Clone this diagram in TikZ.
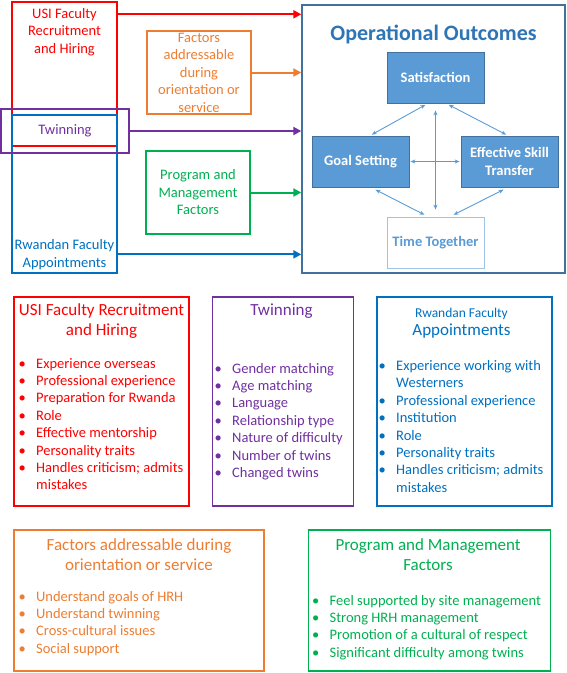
\documentclass[tikz,border=0pt]{standalone}
\usepackage{fontspec}
\setmainfont{Carlito}
\usepackage{tikz}
\usetikzlibrary{arrows.meta,positioning}
\definecolor{usired}{RGB}{255,0,0}
\definecolor{twinpurple}{RGB}{112,48,160}
\definecolor{rwblue}{RGB}{0,112,192}
\definecolor{facorange}{RGB}{237,125,49}
\definecolor{proggreen}{RGB}{0,176,80}
\definecolor{opsblue}{RGB}{91,155,213}
\definecolor{opsdark}{RGB}{65,113,156}
\definecolor{optitle}{RGB}{46,117,182}
\definecolor{opslight}{RGB}{157,195,230}
\newcommand{\blist}[1]{\begin{tabular}[t]{@{}p{17.5pt}@{}l@{}}#1\end{tabular}}

\begin{document}
\begin{tikzpicture}[x=1pt, y=-1pt,
  box/.style={rectangle, draw, line width=1.4pt, inner sep=0pt},
  lbl/.style={align=center, inner sep=0pt, font=\fontsize{14.5}{17.5}\selectfont},
  head/.style={align=center, inner sep=0pt, anchor=base, font=\fontsize{17}{20}\selectfont},
  items/.style={inner sep=0pt, anchor=base west, font=\fontsize{14.5}{17.4}\selectfont},
  outc/.style={rectangle, draw=opsdark, fill=opsblue, text=white, line width=0.8pt, minimum width=97pt, minimum height=51pt, align=center, inner sep=0pt, font=\bfseries\fontsize{14.5}{17.5}\selectfont},
  arr/.style={-{Triangle[length=8pt, width=8pt]}, line width=2pt},
  dbl/.style={{Stealth[length=5pt, width=4pt]}-{Stealth[length=5pt, width=4pt]}, draw=opsblue, line width=0.9pt}
]
\useasboundingbox (0,0) rectangle (567,673);

\node[box, draw=usired, minimum width=105pt, minimum height=144pt] (usi) at (64.5,74) {};
\node[box, draw=rwblue, minimum width=105pt, minimum height=158pt] (rwf) at (64.5,194) {};
\node[box, lbl, draw=twinpurple, text=twinpurple, minimum width=128pt, minimum height=44pt] (twin) at (65,131) {Twinning};
\node[lbl, anchor=base, text=usired] (usilbl) at (64.5,53) {USI Faculty\\Recruitment\\and Hiring};
\node[lbl, anchor=base, text=rwblue] (rwflbl) at (64.5,267) {Rwandan Faculty\\Appointments};
\node[box, lbl, draw=facorange, text=facorange, minimum width=104pt, minimum height=83pt] (fac) at (199,72.5) {Factors\\addressable\\during\\orientation or\\service};
\node[box, lbl, draw=proggreen, text=proggreen, minimum width=104pt, minimum height=83pt] (prog) at (198,192.5) {Program and\\Management\\Factors};

\node[box, draw=opsdark, minimum width=263pt, minimum height=268pt] (ops) at (433.5,139) {};
\node[anchor=base, inner sep=0pt, text=optitle, font=\bfseries\fontsize{22}{26}\selectfont] (opshead) at (433.5,40.5) {Operational Outcomes};
\node[outc] (sat) at (435.5,77.5) {Satisfaction};
\node[outc] (goal) at (360.5,161.5) {Goal Setting};
\node[outc] (skill) at (509.5,161.5) {Effective Skill\\Transfer};
\node[outc, fill=white, draw=opslight, text=opsblue] (time) at (435.5,242.5) {Time Together};

\coordinate (usiout) at ([yshift=-13pt]usi.north east);
\draw[arr, usired] (usiout) -- (usiout -| ops.west);
\draw[arr, facorange] (fac.east) -- (fac.east -| ops.west);
\draw[arr, twinpurple] (twin.east) -- (twin.east -| ops.west);
\draw[arr, proggreen] (prog.east) -- (prog.east -| ops.west);
\draw[arr, rwblue] (rwflbl.east -| rwf.east) -- (rwflbl.east -| ops.west);

\draw[dbl, shorten <=3pt, shorten >=2pt] ([xshift=-7.5pt]sat.south) -- ([xshift=9.5pt]goal.north);
\draw[dbl, shorten <=3pt, shorten >=2pt] ([xshift=10.5pt]sat.south) -- ([xshift=-1.5pt]skill.north);
\draw[dbl, shorten <=7pt, shorten >=7pt] (sat.south) -- (time.north);
\draw[dbl, shorten <=1pt, shorten >=1pt] (goal.east) -- (skill.west);
\draw[dbl, shorten <=5pt, shorten >=4pt] ([xshift=10.5pt]goal.south) -- ([xshift=-7.5pt]time.north);
\draw[dbl, shorten <=5pt, shorten >=4pt] ([xshift=-1.5pt]skill.south) -- ([xshift=14.5pt]time.north);

\node[box, draw=usired, minimum width=175pt, minimum height=209pt] (usicard) at (101.5,401.5) {};
\node[box, draw=twinpurple, minimum width=141pt, minimum height=209pt, right=22pt of usicard] (twincard) {};
\node[box, draw=rwblue, minimum width=175pt, minimum height=209pt, right=22pt of twincard] (rwfcard) {};
\node[box, draw=facorange, minimum width=250pt, minimum height=141pt] (faccard) at (139,600.5) {};
\node[box, draw=proggreen, minimum width=242pt, minimum height=141pt, right=43pt of faccard] (progcard) {};

\node[head, text=usired] (usihead) at (101.5,335.5) {USI Faculty Recruitment\\and Hiring};
\node[head, text=twinpurple] (twinhead) at (281.5,315.5) {Twinning};
\node[head, text=rwblue] (rwfhead) at (461.5,335.5) {{\fontsize{13.5}{16}\selectfont Rwandan Faculty}\\[-2pt]Appointments};
\node[head, text=facorange] (fachead) at (139,570) {Factors addressable during\\orientation or service};
\node[head, text=proggreen] (proghead) at (428,570) {Program and Management\\Factors};

\node[items, text=usired] (usiitems) at (18.5,368) {\blist{%
  \textbullet & Experience overseas\\
  \textbullet & Professional experience\\
  \textbullet & Preparation for Rwanda\\
  \textbullet & Role\\
  \textbullet & Effective mentorship\\
  \textbullet & Personality traits\\
  \textbullet & Handles criticism; admits\\
              & mistakes}};
\node[items, text=twinpurple] (twinitems) at (214.5,373) {\blist{%
  \textbullet & Gender matching\\
  \textbullet & Age matching\\
  \textbullet & Language\\
  \textbullet & Relationship type\\
  \textbullet & Nature of difficulty\\
  \textbullet & Number of twins\\
  \textbullet & Changed twins}};
\node[items, text=rwblue] (rwfitems) at (378.5,370.5) {\blist{%
  \textbullet & Experience working with\\
              & Westerners\\
  \textbullet & Professional experience\\
  \textbullet & Institution\\
  \textbullet & Role\\
  \textbullet & Personality traits\\
  \textbullet & Handles criticism; admits\\
              & mistakes}};
\node[items, text=facorange] (facitems) at (18.5,601) {\blist{%
  \textbullet & Understand goals of HRH\\
  \textbullet & Understand twinning\\
  \textbullet & Cross-cultural issues\\
  \textbullet & Social support}};
\node[items, text=proggreen] (progitems) at (312,605) {\blist{%
  \textbullet & Feel supported by site management\\
  \textbullet & Strong HRH management\\
  \textbullet & Promotion of a cultural of respect\\
  \textbullet & Significant difficulty among twins}};
\end{tikzpicture}
\end{document}
